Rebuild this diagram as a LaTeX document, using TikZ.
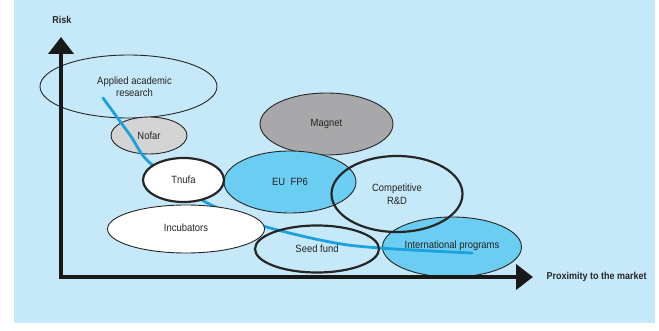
\documentclass[tikz,border=0pt]{standalone}
\usepackage{fontspec}
\setmainfont{Liberation Sans}[FakeStretch=0.9]
\usepackage{tikz}
\usetikzlibrary{arrows.meta,shapes.geometric}
\definecolor{bgcolor}{HTML}{C6E9FA}
\definecolor{fillblue}{HTML}{6ACDF1}
\definecolor{curveblue}{HTML}{1BA1DE}
\definecolor{darkgrey}{HTML}{A8A8AA}
\definecolor{lightgrey}{HTML}{D4D4D4}
\definecolor{txtcolor}{HTML}{222222}
\tikzset{
  axisln/.style={{Triangle[length=17pt,width=25pt]}-{Triangle[length=17pt,width=25pt]}, line width=4pt, line join=miter, black!90},
  curveln/.style={line width=2.8pt, line cap=round, curveblue},
  bubble/.style={ellipse, draw=black!85, line width=0.9pt, inner sep=0pt, text=txtcolor, align=center, font=\fontsize{10.5}{12.5}\selectfont},
  thickbubble/.style={bubble, line width=2.2pt},
  axislabel/.style={text=black!85, font=\fontsize{10}{12}\selectfont\bfseries},
}

\begin{document}
\begin{tikzpicture}[x=1pt, y=-1pt]
    \useasboundingbox (0,0) rectangle (659,331);
    % Background
    \fill[bgcolor] (14,0) rectangle (655,323);
    % Filled ellipses
    \node[bubble, minimum width=177pt, minimum height=63pt] (applied) at (128.5,86.5) {\hspace*{12pt}Applied academic\\\hspace*{12pt}research};
    \node[bubble, fill=darkgrey, minimum width=133pt, minimum height=62pt] (magnet) at (326.5,124) {Magnet};
    \node[bubble, fill=fillblue, minimum width=132pt, minimum height=62pt] (eufp) at (290,182) {EU\ \ FP6};
    \node[bubble, fill=fillblue, minimum width=139pt, minimum height=60pt, text depth=0pt] (intl) at (452,247) {\raisebox{5pt}{International programs}};
    \node[bubble, fill=lightgrey, minimum width=76pt, minimum height=37pt] (nofar) at (149,135.5) {Nofar};
    % Risk curve
    \draw[curveln] plot[smooth, tension=0.6] coordinates {(103,98) (130,135) (150,163) (202,200) (232,213) (263,226) (330,242) (380,248) (472,253)};
    \node[bubble, fill=white, minimum width=157pt, minimum height=48pt] (incub) at (186,229) {\raisebox{3pt}{Incubators}};
    % Outlined ellipses
    \node[thickbubble, fill=white, minimum width=81pt, minimum height=44pt] (tnufa) at (183.5,180) {Tnufa};
    \node[thickbubble, minimum width=131pt, minimum height=76pt] (comp) at (397,194) {Competitive\\R\&D};
    \node[thickbubble, minimum width=124pt, minimum height=47pt] (seed) at (317,249) {\raisebox{-3pt}{Seed fund}};
    % Axis
    \coordinate (ytip) at (61,37);
    \coordinate (origin) at (61,277);
    \coordinate (xtip) at (533,277);
    \draw[axisln] (ytip) -- (origin) -- (xtip);
    \node[axislabel] (risk) at (62,20) {Risk};
    \node[axislabel, anchor=west] (prox) at (543,277) {Proximity to the market};
\end{tikzpicture}
\end{document}
